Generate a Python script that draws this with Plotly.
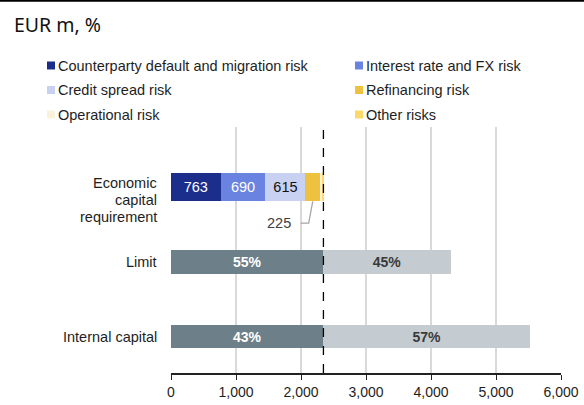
import plotly.graph_objects as go

# Economic capital requirement by risk type (EUR m)
risk_types = [
    "Counterparty default and migration risk",
    "Interest rate and FX risk",
    "Credit spread risk",
    "Refinancing risk",
    "Operational risk",
    "Other risks",
]
risk_values = [763, 690, 615, 225, 35, 17]
risk_colors = ["#1B2E8C", "#6A82E0", "#C9D1F3", "#EEC13F", "#FAF2DA", "#FCD86B"]
risk_label_colors = ["white", "white", "#111111", None, None, None]
risk_labelled = [True, True, True, False, False, False]

categories = ["Economic capital requirement", "Limit", "Internal capital"]
category_lines = [["Economic", "capital", "requirement"], ["Limit"], ["Internal capital"]]
capacity_totals = [4300, 5525]
used_pct = ["55%", "43%"]
free_pct = ["45%", "57%"]

x_ticks = [0, 1000, 2000, 3000, 4000, 5000, 6000]

used_color = "#6D7F88"
free_color = "#C4CCD1"
text_color = "#1E1E1E"
FONT = "Liberation Sans, Arial, sans-serif"

W, H = 584, 405
ML, MR, MT, MB = 171, 23, 127, 32
PW, PH = W - ML - MR, H - MT - MB


def px_x(px):
    """Pixel column -> paper x."""
    return (px - ML) / PW


def px_y(py):
    """Pixel row (from top) -> paper y."""
    return (H - MB - py) / PH


ecr_total = sum(risk_values)

fig = go.Figure()

for name, val, col, lcol, lab in zip(risk_types, risk_values, risk_colors,
                                     risk_label_colors, risk_labelled):
    fig.add_trace(go.Bar(
        y=[categories[0]], x=[val], orientation="h", name=name,
        marker=dict(color=col, line=dict(width=0)),
        width=0.375,
        text=[f"{val}"] if lab else None,
        textposition="inside", insidetextanchor="middle",
        textfont=dict(family=FONT, size=14.5, color=lcol or "black"),
        hoverinfo="x+name", showlegend=False,
    ))

# Used vs. remaining capacity
fig.add_trace(go.Bar(
    y=categories[1:], x=[ecr_total] * len(capacity_totals), orientation="h",
    marker=dict(color=used_color, line=dict(width=0)), width=0.31,
    text=used_pct, textposition="inside", insidetextanchor="middle",
    textfont=dict(family=FONT, size=14, color="white", weight="bold"),
    showlegend=False, name="Used",
))
fig.add_trace(go.Bar(
    y=categories[1:], x=[t - ecr_total for t in capacity_totals], orientation="h",
    marker=dict(color=free_color, line=dict(width=0)), width=0.31,
    text=free_pct, textposition="inside", insidetextanchor="middle",
    textfont=dict(family=FONT, size=14, color="#3A3A3A", weight="bold"),
    showlegend=False, name="Free",
))

# Leader line + label for the refinancing segment
refi_start = sum(risk_values[:3])
refi_mid = refi_start + risk_values[3] / 2
bar_bottom = 0.1875
elbow_y = 0.48
fig.add_shape(type="path", xref="x", yref="y",
              path=(f"M {refi_mid},{bar_bottom} L {refi_mid - 62},{elbow_y} "
                    f"L {refi_mid - 185},{elbow_y}"),
              line=dict(color="#A6A6A6", width=1.3))
fig.add_annotation(x=refi_mid - 300, y=elbow_y, xref="x", yref="y",
                   text=f"{risk_values[3]}", showarrow=False, xanchor="right",
                   yanchor="middle",
                   font=dict(family=FONT, size=14.5, color="#404040"))

# Dashed marker at the total economic capital requirement
fig.add_shape(type="line", xref="x", yref="paper", x0=ecr_total, x1=ecr_total,
              y0=0, y1=1, line=dict(color="black", width=1.3, dash="dash"))

# Top rule
fig.add_shape(type="line", xref="paper", yref="paper",
              x0=px_x(0), x1=px_x(W), y0=px_y(0.8), y1=px_y(0.8),
              line=dict(color="black", width=2))

# Category labels (right-aligned, stacked lines)
label_right = px_x(159)
line_step = 16.8
label_first_shift = [4, 0, 0]   # upward offset of the first line, px
for cat, lines, shift0 in zip(categories, category_lines, label_first_shift):
    for i, ln in enumerate(lines):
        fig.add_annotation(x=label_right, xref="paper", y=cat, yref="y",
                           text=ln, showarrow=False, xanchor="right",
                           yanchor="middle", yshift=shift0 - i * line_step,
                           font=dict(family=FONT, size=14.5, color=text_color))

# Legend: two columns, three rows
legend_cols = [47, 355]
legend_rows = [65.5, 90, 114.5]
sq = 8
for k, (name, col) in enumerate(zip(risk_types, risk_colors)):
    cx = legend_cols[k % 2]
    cy = legend_rows[k // 2]
    fig.add_shape(type="rect", xref="paper", yref="paper",
                  x0=px_x(cx), x1=px_x(cx + sq),
                  y0=px_y(cy + sq / 2), y1=px_y(cy - sq / 2),
                  fillcolor=col, line=dict(width=0))
    fig.add_annotation(x=px_x(cx + sq + 1), xref="paper", y=px_y(cy), yref="paper",
                       text=name, showarrow=False, xanchor="left", yanchor="middle",
                       font=dict(family=FONT, size=14.5, color=text_color))

fig.update_layout(
    width=W, height=H,
    margin=dict(l=ML, r=MR, t=MT, b=MB, autoexpand=False),
    barmode="stack",
    paper_bgcolor="white", plot_bgcolor="white",
    font=dict(family=FONT, size=14, color=text_color),
    title=dict(text="EUR m, %", x=14 / W, xanchor="left", y=1 - 25 / H,
               yanchor="middle",
               font=dict(family="Noto Sans", size=19.5, color="#111111")),
    showlegend=False,
    xaxis=dict(range=[0, 6000], tickvals=x_ticks, tickformat=",",
               showgrid=True, gridcolor="#D9D9D9", gridwidth=2,
               zeroline=False, showline=True, linecolor="#222222", linewidth=2,
               ticks="outside", ticklen=5, tickcolor="#222222", automargin=False,
               tickfont=dict(family=FONT, size=14, color=text_color)),
    yaxis=dict(type="category", categoryorder="array", categoryarray=categories,
               range=[2.487, -0.808], showgrid=False, zeroline=False,
               showticklabels=False, ticks="", automargin=False),
)

fig.write_html("out.html")
